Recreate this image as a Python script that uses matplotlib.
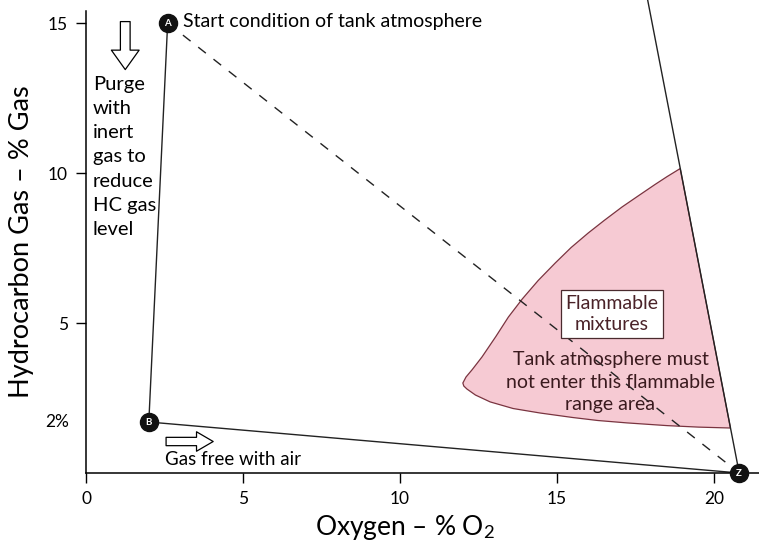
import matplotlib
matplotlib.use("Agg")
import matplotlib.pyplot as plt

plt.rcParams['font.family'] = ['Lato', 'DejaVu Sans']
plt.rcParams['mathtext.fontset'] = 'custom'
plt.rcParams['mathtext.rm'] = 'Lato'
plt.rcParams['mathtext.it'] = 'Lato:italic'

# key states of the tank atmosphere
point_names = ['A', 'B', 'Z']
point_o2 = [2.6, 2.0, 20.8]
point_hc = [15.0, 1.7, 0.0]

# upper limit line (mixtures with air)
limit_o2 = [17.75, 20.8]
limit_hc = [16.5, 0.0]

# flammable region outline: upper curve (top -> tip), lower curve (tip -> right)
upper_o2 = [18.92, 18.5, 18.12, 17.6, 17.07, 16.5, 15.99, 15.45, 14.94, 14.4,
            13.89, 13.45, 13.05, 12.61, 12.3, 12.1, 12.0]
upper_hc = [10.15, 9.88, 9.62, 9.25, 8.87, 8.42, 8.0, 7.52, 7.0, 6.42,
            5.8, 5.2, 4.55, 3.87, 3.45, 3.2, 3.0]
lower_o2 = [12.03, 12.13, 12.4, 12.87, 13.6, 14.46, 15.5, 16.3, 17.23, 18.5, 19.5, 20.52]
lower_hc = [2.9, 2.8, 2.6, 2.37, 2.15, 2.0, 1.85, 1.75, 1.67, 1.58, 1.53, 1.5]

x_ticks = [0, 5, 10, 15, 20]
y_ticks = [5, 10, 15]

fig = plt.figure(figsize=(7.59, 5.42), dpi=100)
ax = fig.add_axes([86 / 759, 69 / 542, 1 - 86 / 759, 473 / 542])
ax.set_xlim(0, 21.43)
ax.set_ylim(0, 15.77)

for s in ['top', 'right']:
    ax.spines[s].set_visible(False)
ax.spines['left'].set_bounds(0, 15.4)
ax.spines['left'].set_linewidth(1.1)
ax.spines['bottom'].set_linewidth(1.1)

ax.set_xticks(x_ticks)
ax.set_yticks(y_ticks)
ax.tick_params(direction='out', length=7, width=1, labelsize=12.5, pad=6)

# flammable area
ax.fill(upper_o2 + lower_o2, upper_hc + lower_hc, facecolor='#f6cad3',
        edgecolor='#7a3440', linewidth=0.9, zorder=1)

# process lines
ax.plot(limit_o2, limit_hc, color='#222222', lw=1.0, zorder=2)
ax.plot(point_o2[:2], point_hc[:2], color='#222222', lw=1.0, zorder=2)
ax.plot(point_o2[1:], point_hc[1:], color='#222222', lw=1.0, zorder=2)
ax.plot([point_o2[0], point_o2[2]], [point_hc[0], point_hc[2]], color='#222222',
        lw=1.0, dashes=(7, 7), zorder=2)

for name, x, y in zip(point_names, point_o2, point_hc):
    ax.plot(x, y, 'o', ms=13, color='#111111', zorder=5, clip_on=False)
    ax.text(x, y, name, color='white', fontsize=7, fontweight='bold',
            ha='center', va='center', zorder=6)

# annotations
ax.text(3.1, 15.05, 'Start condition of tank atmosphere', fontsize=14,
        va='center', ha='left')
ax.text(0.22, 13.25, 'Purge\nwith\ninert\ngas to\nreduce\nHC gas\nlevel',
        fontsize=14.5, va='top', ha='left', linespacing=1.52)
ax.text(2.5, 0.45, 'Gas free with air', fontsize=13.5, va='center', ha='left')
ax.text(-0.55, 1.7, '2%', fontsize=12.5, va='center', ha='right', clip_on=False)

ax.annotate('', xy=(1.25, 13.45), xytext=(1.25, 15.05),
            arrowprops=dict(arrowstyle='simple,head_length=0.7,head_width=1.0,tail_width=0.35',
                            fc='white', ec='black', lw=0.9, mutation_scale=20,
                            shrinkA=0, shrinkB=0))
ax.annotate('', xy=(4.05, 1.05), xytext=(2.55, 1.05),
            arrowprops=dict(arrowstyle='simple,head_length=0.6,head_width=0.7,tail_width=0.3',
                            fc='white', ec='black', lw=0.9, mutation_scale=20,
                            shrinkA=0, shrinkB=0))

ax.text(16.75, 5.3, 'Flammable\nmixtures', fontsize=14, color='#4a2228',
        ha='center', va='center', linespacing=1.35, zorder=4,
        bbox=dict(boxstyle='square,pad=0.25', fc='white', ec='#4a2a2e', lw=0.9))
ax.text(16.7, 3.03, 'Tank atmosphere must\nnot enter this flammable\nrange area',
        fontsize=14, color='#3a1a1e', ha='center', va='center',
        linespacing=1.42, zorder=4)

ax.set_xlabel('Oxygen – % O$_2$', fontsize=19)
ax.xaxis.set_label_coords(0.474, -0.085)
ax.set_ylabel('Hydrocarbon Gas – % Gas', fontsize=19.5)
ax.yaxis.set_label_coords(-0.078, 0.49)

fig.savefig('out.png', dpi=100)
